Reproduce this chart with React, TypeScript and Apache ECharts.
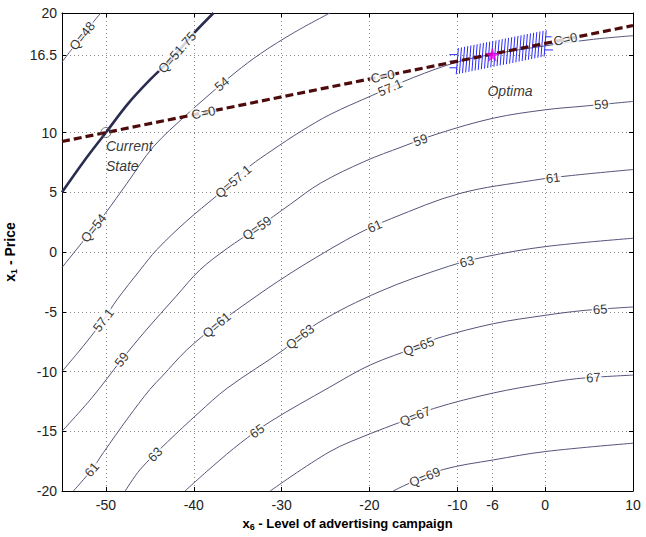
import React, { useEffect, useRef } from 'react';
import * as echarts from 'echarts';

// ---- axis ticks ----
const xTicks = [-50, -40, -30, -20, -10, -6, 0, 10];
const yTicks = [-20, -15, -10, -5, 0, 5, 10, 16.5, 20];

// ---- contour lines ----
const q48 = [[-55, 15.9], [-52.8, 18.0], [-50.6, 20]];
const q5175 = [[-55, 5], [-52.5, 7.6], [-50, 10], [-47.5, 12.4], [-45, 14.4], [-42.5, 16.2], [-40, 18.3], [-37.75, 20]];
const q54 = [[-55, -1.3], [-51.4, 2.0], [-50.1, 3.2], [-47.6, 5.75], [-44.6, 8.8], [-40.8, 11.5], [-38.5, 13.0], [-35.3, 15.0], [-32.4, 16.6], [-28.5, 18.4], [-24.5, 20]];
const q571 = [[-55, -10], [-52.5, -7.8], [-50.3, -5.7], [-48.75, -4.0], [-46.1, -1.5], [-44.2, 0.2], [-40.8, 2.6], [-37.4, 4.7], [-35.5, 5.9], [-33.6, 7.2], [-31.1, 8.5], [-27.8, 10.1], [-24.5, 11.5], [-19.7, 13.1], [-15, 14.6], [-10, 15.9], [-6, 16.55], [0, 17.25], [5.5, 17.8], [10, 18.1]];
const q59 = [[-55, -15.0], [-51.6, -12.2], [-48.2, -9.0], [-45.5, -6.6], [-42, -3.7], [-39.3, -1.5], [-36.2, 0.3], [-32.8, 2.0], [-29, 4.0], [-25.6, 5.75], [-20.5, 7.6], [-16.3, 8.8], [-12.2, 9.9], [-5.9, 11.2], [0, 11.9], [4.3, 12.2], [10, 12.6]];
const q61 = [[-53.7, -20], [-51.6, -18.2], [-50.3, -16.8], [-47.5, -13.9], [-45, -11.5], [-43.6, -10.4], [-40.8, -8.2], [-37.4, -6.1], [-35.1, -4.85], [-30.5, -2.5], [-26.4, -0.6], [-21.4, 1.5], [-17.5, 2.8], [-9.7, 4.9], [-1.35, 6.0], [3, 6.4], [10, 6.9]];
const q63 = [[-47.8, -20], [-46.1, -18.2], [-43, -15.9], [-39.5, -13.5], [-36.2, -11.4], [-29.8, -8.2], [-26, -6.0], [-18.8, -3.3], [-11, -1.2], [-6.8, -0.4], [0, 0.45], [10, 1.15]];
const q65 = [[-41, -20], [-37.8, -17.9], [-34.7, -16.0], [-31.3, -14.2], [-24.5, -11.3], [-19.9, -9.45], [-14.4, -7.9], [-12.2, -7.2], [-5.9, -6.0], [0, -5.3], [4.3, -4.9], [10, -4.6]];
const q67 = [[-31.3, -20], [-24.5, -16.7], [-19.9, -15.2], [-16.7, -14.3], [-12.7, -13.1], [-5.9, -11.8], [0, -11.0], [3.6, -10.6], [10, -10.3]];
const q69 = [[-17.3, -20], [-15.6, -19.4], [-11.6, -18.2], [-5.9, -17.4], [0, -16.7], [10, -16.0]];

// constraint line C=0
const cLine = [[-55, 9.25], [10, 18.95]];

// labels on contours: [text, contour key, x]
const contourLabels: [string, string, number][] = [
  ['Q=48', '48', -52.7],
  ['Q=51.75', '51.75', -41.9],
  ['Q=54', '54', -51.4],
  ['54', '54', -36.8],
  ['57.1', '57.1', -50.3],
  ['Q=57.1', '57.1', -35.5],
  ['57.1', '57.1', -17.65],
  ['59', '59', -48.2],
  ['Q=59', '59', -32.8],
  ['59', '59', -14.2],
  ['59', '59', 6.4],
  ['61', '61', -51.6],
  ['Q=61', '61', -37.4],
  ['61', '61', -19.4],
  ['61', '61', 0.9],
  ['63', '63', -44.4],
  ['Q=63', '63', -27.9],
  ['63', '63', -8.9],
  ['65', '65', -32.8],
  ['Q=65', '65', -14.4],
  ['65', '65', 6.25],
  ['Q=67', '67', -14.8],
  ['67', '67', 5.5],
  ['Q=69', '69', -13.7],
  ['C=0', 'C', -38.9],
  ['C=0', 'C', -18.5],
  ['C=0', 'C', 2.3],
];

// points of interest
const currentState = [-50, 10];
const optimum = [-6, 16.5];
const optimaRange = [-10, 0, 1.1]; // x from, x to, half height of the band
const annotations: [string, number, number, string][] = [
  ['Current\nState', -50, 9.7, 'topLeft'],
  ['Optima', -4.0, 13.5, 'center'],
];

const X_MIN = -55, X_MAX = 10, Y_MIN = -20, Y_MAX = 20;
const GRID = { left: 62, right: 13, top: 13, bottom: 46 };
const W = 646, H = 537;

const NARROW = '"Liberation Sans Narrow", "Arial Narrow", "Liberation Sans", Arial, sans-serif';

const thin: Record<string, number[][]> = {
  '48': q48, '54': q54, '57.1': q571, '59': q59, '61': q61, '63': q63, '65': q65, '67': q67, '69': q69,
};
const allLines: Record<string, number[][]> = { ...thin, '51.75': q5175, C: cLine };

function interp(pts: number[][], x: number) {
  for (let i = 0; i < pts.length - 1; i++) {
    const a = pts[i], b = pts[i + 1];
    if (x >= a[0] && x <= b[0]) {
      const t = (x - a[0]) / (b[0] - a[0]);
      return { y: a[1] + t * (b[1] - a[1]), slope: (b[1] - a[1]) / (b[0] - a[0]) };
    }
  }
  const a = pts[pts.length - 2], b = pts[pts.length - 1];
  const s = (b[1] - a[1]) / (b[0] - a[0]);
  return { y: b[1] + (x - b[0]) * s, slope: s };
}

export default function App() {
  const ref = useRef<HTMLDivElement>(null);
  useEffect(() => {
    if (!ref.current) return;
    const chart = echarts.init(ref.current, null, { renderer: 'svg' });
    const pxX = (W - GRID.left - GRID.right) / (X_MAX - X_MIN);
    const pxY = (H - GRID.top - GRID.bottom) / (Y_MAX - Y_MIN);

    const labelData = contourLabels.map(([text, key, x]) => {
      const { y, slope } = interp(allLines[key], x);
      const ang = (Math.atan(slope * pxY / pxX) * 180) / Math.PI;
      return {
        value: [x, y],
        name: text,
        label: { rotate: ang },
      };
    });

    const thinSeries = Object.keys(thin).map((k) => ({
      type: 'line',
      name: 'Q=' + k,
      data: thin[k],
      smooth: 0.35,
      showSymbol: false,
      symbol: 'none',
      z: 2,
      silent: true,
      lineStyle: { color: '#55557a', width: 1 },
    }));

    const axisCommon = {
      axisLine: { show: true, onZero: false, lineStyle: { color: '#000', width: 1 } },
      axisTick: { show: true, inside: true, length: 4, lineStyle: { color: '#000' } },
    };

    const option: any = {
      animation: false,
      backgroundColor: '#fff',
      grid: { ...GRID, containLabel: false, outerBoundsMode: 'none' },
      xAxis: [
        {
          type: 'value', min: X_MIN, max: X_MAX, position: 'bottom',
          ...axisCommon,
          axisTick: { ...axisCommon.axisTick, customValues: xTicks },
          axisLabel: { customValues: xTicks, color: '#222', fontSize: 14, fontFamily: NARROW, margin: 7 },
          splitLine: { show: true, lineStyle: { color: '#8a8a8a', type: [1, 3], width: 1 } },
          name: '{b|x}{s|6}{b| - Level of advertising campaign}',
          nameLocation: 'middle', nameGap: 16,
          nameTextStyle: {
            rich: {
              b: { fontSize: 13, fontWeight: 'bold', fontFamily: NARROW, color: '#000' },
              s: { fontSize: 9, fontWeight: 'bold', fontFamily: NARROW, color: '#000', padding: [8, 0, 0, 0] },
            },
          },
        },
        {
          type: 'value', min: X_MIN, max: X_MAX, position: 'top',
          ...axisCommon,
          axisTick: { ...axisCommon.axisTick, customValues: xTicks },
          axisLabel: { show: false },
          splitLine: { show: false },
        },
      ],
      yAxis: [
        {
          type: 'value', min: Y_MIN, max: Y_MAX, position: 'left',
          ...axisCommon,
          axisTick: { ...axisCommon.axisTick, customValues: yTicks },
          axisLabel: { customValues: yTicks, color: '#222', fontSize: 14, fontFamily: NARROW, margin: 5 },
          splitLine: { show: true, lineStyle: { color: '#8a8a8a', type: [1, 3], width: 1 } },
          name: '{b|x}{s|1}{b| - Price}',
          nameLocation: 'middle', nameGap: 36, nameRotate: 90,
          nameTextStyle: {
            rich: {
              b: { fontSize: 14, fontWeight: 'bold', fontFamily: NARROW, color: '#000' },
              s: { fontSize: 9, fontWeight: 'bold', fontFamily: NARROW, color: '#000', padding: [8, 0, 0, 0] },
            },
          },
        },
        {
          type: 'value', min: Y_MIN, max: Y_MAX, position: 'right',
          ...axisCommon,
          axisTick: { ...axisCommon.axisTick, customValues: yTicks },
          axisLabel: { show: false },
          splitLine: { show: false },
        },
      ],
      series: [
        ...thinSeries,
        {
          type: 'line', name: 'Q=51.75', data: q5175, smooth: 0.35, symbol: 'none', z: 3, silent: true,
          lineStyle: { color: '#2b2d50', width: 2.6 },
        },
        {
          type: 'custom', name: 'optima band', z: 4, silent: true,
          data: [optimaRange],
          encode: { x: [0, 1] },
          renderItem: (params: any, api: any) => {
            const x0 = api.value(0), x1 = api.value(1), h = api.value(2);
            const children: any[] = [];
            const n = 28;
            const style = { stroke: '#2a2aff', lineWidth: 1 };
            for (let i = 0; i <= n; i++) {
              const x = x0 + ((x1 - x0) * i) / n;
              const yc = interp(cLine, x).y;
              const p1 = api.coord([x - 0.12, yc - h]);
              const p2 = api.coord([x + 0.12, yc + h]);
              children.push({ type: 'line', shape: { x1: p1[0], y1: p1[1], x2: p2[0], y2: p2[1] }, style });
            }
            [[x0, -1], [x1, 1]].forEach(([x, dir]) => {
              const yc = interp(cLine, x).y;
              [-0.55, 0, 0.55].forEach((d) => {
                const a = api.coord([x, yc + d]);
                const b = api.coord([x + dir * 0.9, yc + d]);
                children.push({ type: 'line', shape: { x1: a[0], y1: a[1], x2: b[0], y2: b[1] }, style });
              });
            });
            return { type: 'group', children };
          },
        },
        {
          type: 'line', name: 'C=0', data: cLine, symbol: 'none', z: 5, silent: true,
          lineStyle: { color: '#4e0b0b', width: 3.2, type: [8, 4] },
        },
        {
          type: 'scatter', name: 'labels', data: labelData, symbolSize: 0, z: 6, silent: true,
          label: {
            show: true, position: 'inside', formatter: '{b}', color: '#000', fontSize: 13,
            fontFamily: NARROW, backgroundColor: '#fff', padding: [0, 1], align: 'center', verticalAlign: 'middle',
          },
        },
        {
          type: 'scatter', name: 'Current State', data: [currentState], symbol: 'circle', symbolSize: 10, z: 7, silent: true,
          itemStyle: { color: 'rgba(0,0,0,0)', borderColor: '#555', borderWidth: 1 },
        },
        {
          type: 'scatter', name: 'Optimum', data: [optimum], z: 8, silent: true,
          symbol: 'path://M50,0 L61,35 L98,35 L68,57 L79,91 L50,70 L21,91 L32,57 L2,35 L39,35 Z',
          symbolSize: 13, itemStyle: { color: '#ff00ff', borderColor: '#c000c0', borderWidth: 0.5 },
        },
        {
          type: 'scatter', name: 'annotations', symbolSize: 0, z: 9, silent: true,
          data: annotations.map(([t, x, y, pos]) => ({
            value: [x, y], name: t,
            label: pos === 'topLeft'
              ? { position: [0, 0], align: 'left', verticalAlign: 'top' }
              : { position: 'inside', align: 'center', verticalAlign: 'middle' },
          })),
          label: {
            show: true, formatter: '{b}', color: '#000', fontSize: 14, fontStyle: 'italic',
            fontFamily: NARROW, lineHeight: 20,
          },
        },
      ],
    };
    chart.setOption(option);
    return () => chart.dispose();
  }, []);
  return <div ref={ref} style={{ position: 'fixed', left: 0, top: 0, width: W, height: H, background: '#fff' }} />;
}
